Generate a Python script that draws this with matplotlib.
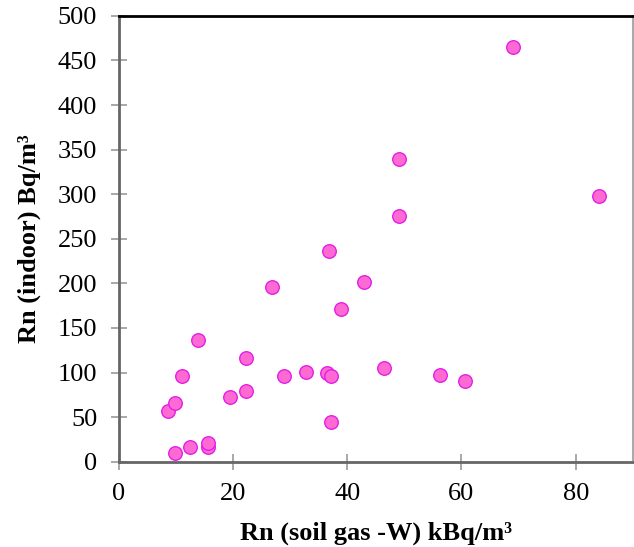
import matplotlib
matplotlib.use("Agg")
import matplotlib.pyplot as plt

# Rn soil gas (kBq/m3) vs indoor Rn (Bq/m3)
soil_gas = [69.0, 49.1, 84.0, 49.1, 36.9, 26.9, 43.0, 39.0, 13.9, 22.3,
            11.1, 29.0, 32.7, 36.5, 37.1, 46.5, 56.2, 60.6, 8.6, 9.8,
            19.5, 22.3, 37.1, 9.9, 12.5, 15.7, 15.7]
indoor = [465, 339, 298, 275, 236, 196, 201, 171, 137, 116,
          96, 96, 101, 100, 96, 105, 97, 91, 57, 66,
          72, 79, 44, 10, 16, 17, 21]

x_ticks = [0, 20, 40, 60, 80]
y_ticks = [0, 50, 100, 150, 200, 250, 300, 350, 400, 450, 500]

plt.rcParams['font.family'] = ['Liberation Serif', 'DejaVu Serif']

fig = plt.figure(figsize=(6.34, 5.47), dpi=100)
ax = fig.add_axes([0.1872, 0.156, 0.811, 0.815])

ax.scatter(soil_gas, indoor, s=95, facecolor='#ff6ad2', edgecolor='#e21ee8',
           linewidth=1.0, zorder=3, clip_on=False)

ax.set_xlim(0, 90)
ax.set_ylim(0, 500)
ax.set_xticks(x_ticks)
ax.set_yticks(y_ticks)
ax.tick_params(direction='inout', length=11, width=1.2, color='#999999',
               labelsize=19)
ax.tick_params(axis='x', pad=10)
ax.tick_params(axis='y', pad=10)

ax.spines['left'].set_color('#666666')
ax.spines['left'].set_linewidth(2)
ax.spines['bottom'].set_color('#666666')
ax.spines['bottom'].set_linewidth(2)
ax.spines['top'].set_color('black')
ax.spines['top'].set_linewidth(2)
ax.spines['right'].set_color('#aaaaaa')
ax.spines['right'].set_linewidth(1.5)

ax.set_xlabel('Rn (soil gas -W) kBq/m³', fontsize=19, fontweight='bold', labelpad=12)
ax.set_ylabel('Rn (indoor) Bq/m³', fontsize=19, fontweight='bold', labelpad=12)

fig.savefig('out.png', dpi=100)
